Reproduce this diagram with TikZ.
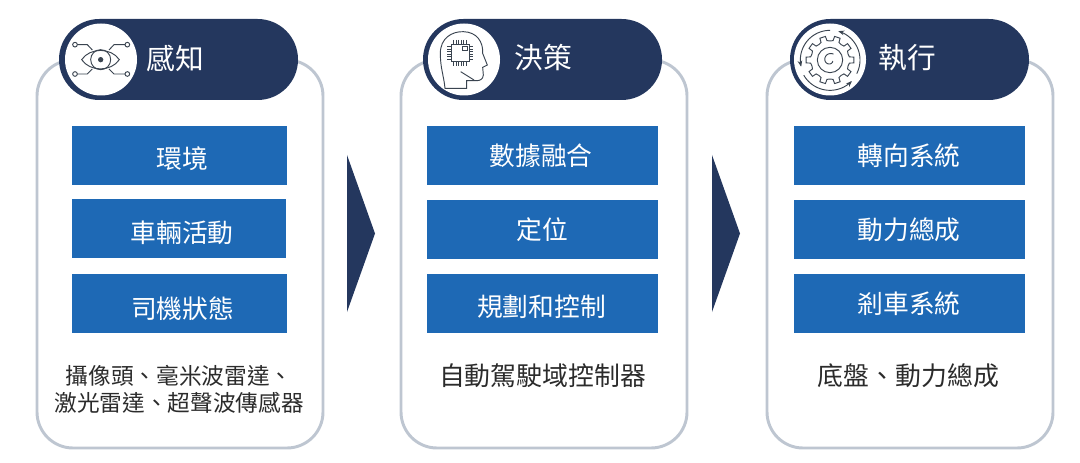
\documentclass[tikz,border=0pt]{standalone}
\usepackage{fontspec}
\setmainfont{Noto Sans CJK TC}
\usetikzlibrary{arrows.meta}
\definecolor{navy}{HTML}{24375E}
\definecolor{cardline}{HTML}{BEC6D1}
\definecolor{boxblue}{HTML}{1E69B5}
\definecolor{ink}{HTML}{2B2B2B}
\definecolor{iconink}{HTML}{3A4450}
\tikzset{
  x=0.75pt,y=-0.75pt,
  card/.style={draw=cardline,line width=2.2pt,rounded corners=27pt,fill=white},
  pill/.style={fill=navy,rounded corners=30.3pt},
  badge/.style={circle,fill=white,draw=none,minimum size=54pt,inner sep=0pt},
  bluebox/.style={fill=boxblue,inner sep=0pt},
  boxtext/.style={text=white,inner sep=0pt,font=\fontsize{19.3}{19.3}\selectfont},
  pilltext/.style={text=white,inner sep=0pt,font=\fontsize{21.5}{21.5}\selectfont},
  caption/.style={text=ink,inner sep=0pt,align=center,font=\fontsize{19.4}{20}\selectfont},
  smallcaption/.style={text=ink,inner sep=0pt,align=center,font=\fontsize{17}{20.2}\selectfont},
  chev/.style={fill=navy},
  ic/.style={draw=iconink,line width=0.7pt,fill=none},
  icarrow/.style={ic,-{Stealth[length=4.5pt,width=3.5pt]}},
}
\begin{document}
\begin{tikzpicture}
\useasboundingbox (0,0) rectangle (1080,463);
% cards
\draw[card] (37,60) rectangle (323,448);
\draw[card] (401,60) rectangle (687,448);
\draw[card] (767,60) rectangle (1053,448);
% pills
\fill[pill] (59,19) rectangle (298,100);
\fill[pill] (423,19) rectangle (662,100);
\fill[pill] (790,19) rectangle (1029,100);
\node[badge] (b1) at (101,59.5) {};
\node[badge] (b2) at (464,59.5) {};
\node[badge] (b3) at (830,59.5) {};
\node[pilltext] (t1) at (175,58) {感知};
\node[pilltext] (t2) at (543,58) {決策};
\node[pilltext] (t3) at (907,58) {執行};
% blue boxes
\node[bluebox,minimum width=161.25pt,minimum height=44.25pt] (a1) at (179.5,155.5) {};
\node[bluebox,minimum width=160.5pt,minimum height=44.25pt] (a2) at (179,228.5) {};
\node[bluebox,minimum width=161.25pt,minimum height=44.25pt] (a3) at (179.5,303.5) {};
\node[bluebox,minimum width=173.25pt,minimum height=44.25pt] (c1) at (542.5,155.5) {};
\node[bluebox,minimum width=173.25pt,minimum height=44.25pt] (c2) at (542.5,229.5) {};
\node[bluebox,minimum width=173.25pt,minimum height=44.25pt] (c3) at (542.5,303.5) {};
\node[bluebox,minimum width=173.25pt,minimum height=44.25pt] (e1) at (909.5,155.5) {};
\node[bluebox,minimum width=173.25pt,minimum height=44.25pt] (e2) at (909.5,229.5) {};
\node[bluebox,minimum width=173.25pt,minimum height=44.25pt] (e3) at (909.5,303.5) {};
\node[boxtext] (la1) at (182.5,158.5) {環境};
\node[boxtext] (la2) at (182,233) {車輛活動};
\node[boxtext] (la3) at (182.5,308.5) {司機狀態};
\node[boxtext] (lc1) at (541,155.5) {數據融合};
\node[boxtext] (lc2) at (542,230) {定位};
\node[boxtext] (lc3) at (541.5,306.5) {規劃和控制};
\node[boxtext] (le1) at (909,155.5) {轉向系統};
\node[boxtext] (le2) at (909,229.5) {動力總成};
\node[boxtext] (le3) at (909,303.5) {剎車系統};
% captions
\node[smallcaption] (p1) at (179,389.5) {攝像頭、毫米波雷達、\\激光雷達、超聲波傳感器};
\node[caption] (p2) at (542.5,376) {自動駕駛域控制器};
\node[caption] (p3) at (908.5,376) {底盤、動力總成};
% chevrons
\fill[chev] (347,155) -- (375,233.5) -- (347,312) -- cycle;
\fill[chev] (712,155) -- (740,233.5) -- (712,312) -- cycle;
% eye icon
\begin{scope}[shift={(30,10)},x=0.25pt,y=-0.25pt]
  \draw[ic] (155,149) .. controls (180,112) and (243,112) .. (268,149) .. controls (243,186) and (180,186) .. (155,149) -- cycle;
  \draw[ic] (212,149) circle (30);
  \fill[iconink] (212,149) circle (8);
  \draw[ic] (135,104) circle (7) (292,104) circle (7) (135,192) circle (7) (292,192) circle (7);
  \draw[ic] (142,104) -- (172,104) -- (187,120) (285,104) -- (252,104) -- (237,120)
            (142,192) -- (172,192) -- (187,177) (285,192) -- (252,192) -- (237,177);
\end{scope}
% head icon
\begin{scope}[shift={(395,10)},x=0.25pt,y=-0.25pt]
  \draw[ic] (150,235) .. controls (146,195) and (136,175) .. (136,130)
     .. controls (136,85) and (170,64) .. (205,65)
     .. controls (245,66) and (265,95) .. (263,130)
     -- (277,165) -- (263,172) -- (265,195)
     .. controls (264,208) and (255,212) .. (245,212) -- (215,212) -- (215,235) -- cycle;
  \draw[ic] (168,102) rectangle (222,155);
  \draw[ic] (203,108) rectangle (217,120);
  \draw[ic] (197,185) -- (237,210);
  \foreach \k in {0,1,2,3,4,5}{
    \draw[ic] (176+\k*7.5,90) -- (176+\k*7.5,102) (176+\k*7.5,155) -- (176+\k*7.5,167)
              (156,110+\k*7.5) -- (168,110+\k*7.5) (222,110+\k*7.5) -- (234,110+\k*7.5);
  }
\end{scope}
% gear icon
\begin{scope}[shift={(760,10)},x=0.25pt,y=-0.25pt]
  \begin{scope}[shift={(210,150)}]
    \draw[ic]
      \foreach \a in {0,36,...,324}{
        (\a-18:57) -- (\a-9:59) -- (\a-7:72) -- (\a+7:72) -- (\a+9:59) -- (\a+18:57)
      };
    \draw[ic] (0,0) circle (38);
    \draw[ic] plot[domain=20:300,samples=30,smooth] ({\x}:{8+\x/24});
    \draw[icarrow] plot[domain=270:167,samples=30,smooth] ({\x}:89);
    \draw[icarrow] plot[domain=150:44,samples=30,smooth] ({\x}:91);
    \draw[icarrow] plot[domain=27:-74,samples=30,smooth] ({\x}:90);
  \end{scope}
\end{scope}
\end{tikzpicture}
\end{document}
